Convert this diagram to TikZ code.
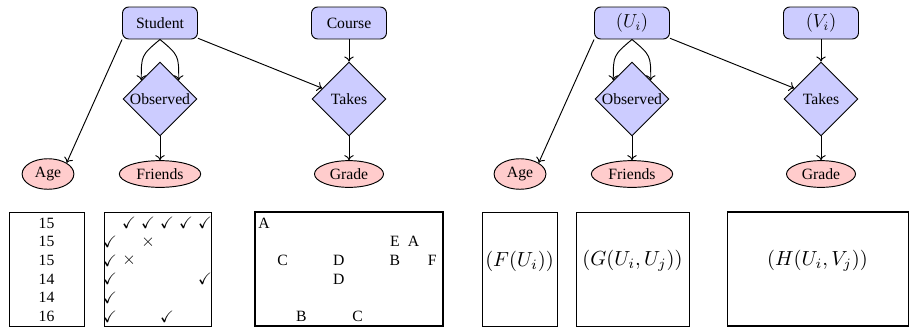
\documentclass[tikz,border=0pt]{standalone}
\usepackage{amssymb}
\usepackage[no-math]{fontspec}
\setmainfont{Liberation Serif}
\usetikzlibrary{shapes.geometric, arrows.meta}
% one drawing unit
\newcommand{\pxu}{0.637pt}
\tikzset{
  entity/.style={draw, semithick, rounded corners=4pt, fill=blue!20,
    minimum width=75*\pxu, minimum height=32*\pxu, inner sep=2pt},
  rel/.style={draw, semithick, diamond, aspect=1, fill=blue!20,
    minimum width=74*\pxu, minimum height=74*\pxu, inner sep=0pt},
  attr/.style={draw, semithick, ellipse, fill=red!20, inner ysep=2.5pt},
  panel/.style={draw, minimum height=114*\pxu, inner sep=0pt},
  boldpanel/.style={panel, line width=0.65pt},
  cell/.style={inner sep=0pt},
  tick/.style={inner sep=0pt, scale=1.05},
  cross/.style={inner sep=0pt, scale=1.1},
  link/.style={-{To[length=3.2pt, width=6pt]}, semithick},
  mathlabel/.style={inner sep=0pt, scale=1.3},
}
\begin{document}
\begin{tikzpicture}[x=0.637pt, y=-0.637pt]
\useasboundingbox (0,0) rectangle (909,327);

% ---------- left schema ----------
\node[entity] (student) at (160,23) {Student};
\node[entity] (course)  at (349,23) {Course};
\node[rel] (observed) at (160,99) {Observed};
\node[rel] (takes)    at (349,99) {Takes};
\node[attr] (age)     at (48,174)  {Age};
\node[attr] (friends) at (160,174) {Friends};
\node[attr] (grade)   at (349,174) {Grade};

\draw[link] (student.south west) -- (age.north east);
\draw[link] (student.south) to[out=220, in=90, looseness=1.4] (observed.north west);
\draw[link] (student.south) to[out=-40, in=90, looseness=1.4] (observed.north east);
\draw[link] (student) -- (takes);
\draw[link] (course) -- (takes);
\draw[link] (observed) -- (friends);
\draw[link] (takes) -- (grade);

% ---------- right schema ----------
\node[entity] (ubox) at (632,23) {\large$(U_i)$};
\node[entity] (vbox) at (821,23) {\large$(V_i)$};
\node[rel] (observedR) at (632,99) {Observed};
\node[rel] (takesR)    at (821,99) {Takes};
\node[attr] (ageR)     at (520,174) {Age};
\node[attr] (friendsR) at (632,174) {Friends};
\node[attr] (gradeR)   at (821,174) {Grade};

\draw[link] (ubox.south west) -- (ageR.north east);
\draw[link] (ubox.south) to[out=220, in=90, looseness=1.4] (observedR.north west);
\draw[link] (ubox.south) to[out=-40, in=90, looseness=1.4] (observedR.north east);
\draw[link] (ubox) -- (takesR);
\draw[link] (vbox) -- (takesR);
\draw[link] (observedR) -- (friendsR);
\draw[link] (takesR) -- (gradeR);

% ---------- data tables ----------
\node[panel, minimum width=75*\pxu]  (ages)    at (46.5,269)  {};
\node[panel, minimum width=107*\pxu] (friendm) at (157.5,269) {};
\node[boldpanel, minimum width=188*\pxu] (gradem) at (349,269) {};

\foreach \n [count=\i] in {15,15,15,14,14,16}
  \node[cell] (age-\i) at (46.5,{223+18.7*(\i-1)}) {\n};

\foreach \c/\r [count=\k] in {2/1,3/1,4/1,5/1,6/1,1/2,1/3,1/4,6/4,1/5,1/6,4/6}
  \node[tick] (yes-\k) at ({110+19*(\c-1)},{223+18.7*(\r-1)}) {$\checkmark$};
\foreach \c/\r [count=\k] in {3/2,2/3}
  \node[cross] (no-\k) at ({110+19*(\c-1)},{223+18.7*(\r-1)}) {$\times$};

\foreach \l/\c/\r [count=\k] in {A/0/0,E/7/1,A/8/1,C/1/2,D/4/2,B/7/2,F/9/2,D/4/3,B/2/5,C/5/5}
  \node[cell] (grade-\k) at ({264+18.7*\c},{223+18.7*\r}) {\l};

% ---------- functional tables ----------
\node[panel, minimum width=75*\pxu]  (fpanel) at (519.5,269) {};
\node[panel, minimum width=113*\pxu] (gpanel) at (632.5,269) {};
\node[boldpanel, minimum width=181*\pxu] (hpanel) at (817.5,269) {};
\node[mathlabel] (ftext) at (519.5,261) {$(F(U_i))$};
\node[mathlabel] (gtext) at (632.5,261) {$(G(U_i,U_j))$};
\node[mathlabel] (htext) at (817.5,261) {$(H(U_i,V_j))$};
\end{tikzpicture}
\end{document}
